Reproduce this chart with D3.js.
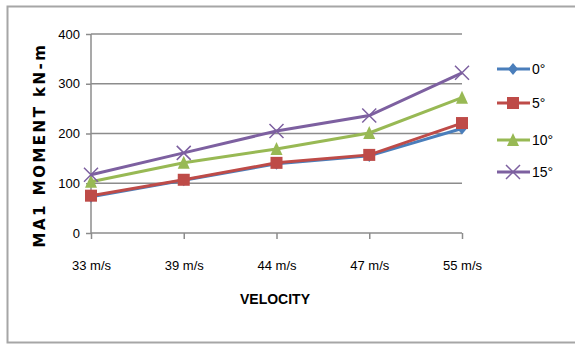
<!DOCTYPE html>
<html><head><meta charset="utf-8">
<script src="https://cdn.jsdelivr.net/npm/d3@7"></script>
<style>body{margin:0;background:#fff}svg{display:block}</style>
</head><body><svg id="c" width="575" height="344"></svg>
<script>
const categories = ["33 m/s","39 m/s","44 m/s","47 m/s","55 m/s"];
const seriesNames = ["0°","5°","10°","15°"];
const s0 = [73,106,139,155,210];
const s5 = [75,107,141,157,221];
const s10 = [103,141,169,201,272];
const s15 = [117,161,205,236,322];
const yTicks = [0,100,200,300,400];
const colors = ["#4a7ebb","#be4b48","#98b954","#7d60a0"];
const series = [s0,s5,s10,s15];

const svg = d3.select("#c");
const font = "'Liberation Sans Narrow','Liberation Sans',Arial,sans-serif";
svg.append("rect").attr("x",7.5).attr("y",6.5).attr("width",600).attr("height",336)
  .attr("fill","#fff").attr("stroke","#a6a6a6").attr("stroke-width",2);

const x = d3.scalePoint().domain(categories).range([91,462]);
const y = d3.scaleLinear().domain([0,400]).range([233,34]);

svg.append("g").selectAll("line").data(yTicks.slice(1)).join("line")
  .attr("x1",91).attr("x2",462).attr("y1",d=>y(d)).attr("y2",d=>y(d))
  .attr("stroke","#8c8c8c").attr("stroke-width",1.5);

const ya = svg.append("g").attr("transform","translate(91,0)")
  .call(d3.axisLeft(y).tickValues(yTicks).tickSize(5).tickPadding(6).tickSizeOuter(0));
const xa = svg.append("g").attr("transform","translate(0,233)")
  .call(d3.axisBottom(x).tickSize(6).tickPadding(22).tickSizeOuter(0));
[ya,xa].forEach(a=>{
  a.selectAll("path,line").attr("stroke","#8c8c8c").attr("stroke-width",1.5);
  a.selectAll("text").attr("font-family",font).attr("font-size",13).attr("fill","#000");
});
ya.select(".domain").attr("d","M0,"+y(400)+"V"+y(0)+"H0");
xa.select(".domain").attr("d","M91,0H462");

svg.append("text").attr("x",275).attr("y",304).attr("text-anchor","middle")
  .attr("font-family",font).attr("font-weight","bold").attr("font-size",14).text("VELOCITY");
svg.append("text").attr("transform","translate(45,145) rotate(-90)").attr("text-anchor","middle")
  .attr("font-family","'DejaVu Sans',Verdana,sans-serif").attr("font-weight","bold").attr("font-size",15)
  .attr("letter-spacing",2.5).text("MA1 MOMENT kN-m");

const line = d3.line().x((d,i)=>x(categories[i])).y(d=>y(d));

function marker(g, k, cx, cy){
  const c = colors[k];
  if(k===0){
    g.append("path").attr("d",`M${cx},${cy-6}L${cx+5},${cy}L${cx},${cy+6}L${cx-5},${cy}Z`).attr("fill",c);
  } else if(k===1){
    g.append("rect").attr("x",cx-6).attr("y",cy-6).attr("width",12).attr("height",12).attr("fill",c);
  } else if(k===2){
    g.append("path").attr("d",`M${cx},${cy-7}L${cx+6},${cy+6}L${cx-6},${cy+6}Z`).attr("fill",c);
  } else {
    g.append("path").attr("d",`M${cx-7},${cy-7}L${cx+7},${cy+7}M${cx+7},${cy-7}L${cx-7},${cy+7}`)
      .attr("stroke",c).attr("stroke-width",1.5);
  }
}

series.forEach((s,k)=>{
  const g = svg.append("g");
  g.append("path").datum(s).attr("d",line).attr("fill","none").attr("stroke",colors[k]).attr("stroke-width",3);
  s.forEach((v,i)=>marker(g,k,x(categories[i]),y(v)));
});

const ly = [69,103,140,172];
seriesNames.forEach((n,k)=>{
  const g = svg.append("g");
  g.append("line").attr("x1",497).attr("x2",530).attr("y1",ly[k]).attr("y2",ly[k])
    .attr("stroke",colors[k]).attr("stroke-width",3);
  marker(g,k,513,ly[k]);
  g.append("text").attr("x",532).attr("y",ly[k]+5).attr("font-family",font).attr("font-size",14).text(n);
});
</script></body></html>
